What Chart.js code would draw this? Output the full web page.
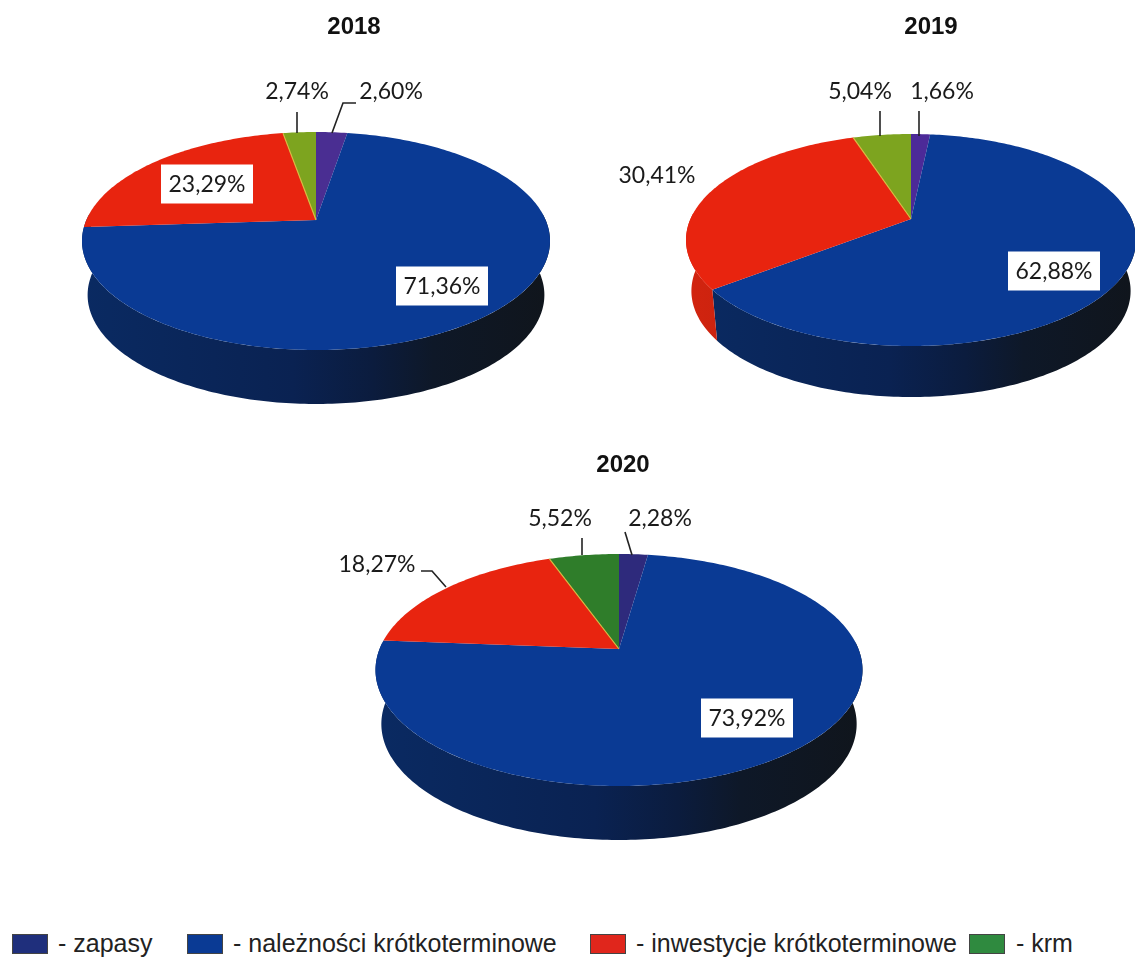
<!DOCTYPE html>
<html lang="pl">
<head>
<meta charset="utf-8">
<title>Struktura majątku obrotowego</title>
<script src="https://cdn.jsdelivr.net/npm/chart.js@4.4.0/dist/chart.umd.min.js"></script>
<style>
    html, body { margin: 0; padding: 0; background: #fff; overflow: hidden; }
    #page { position: relative; width: 1135px; height: 957px; overflow: hidden; }
    canvas { position: absolute; }
    .swatch { position: absolute; top: 934px; width: 34px; height: 18px; border: 1px solid #444; box-sizing: content-box; }
    .legend-text { position: absolute; top: 930px; font: 25px "Liberation Sans", sans-serif; color: #222; white-space: nowrap; line-height: 26px; }
</style>
</head>
<body>
<div id="page">
    <canvas id="pie2018" width="600" height="440" style="left:0;top:0"></canvas>
    <canvas id="pie2019" width="535" height="440" style="left:600px;top:0"></canvas>
    <canvas id="pie2020" width="600" height="450" style="left:300px;top:440px"></canvas>
</div>
<script>
// ____________ Data ____________
const categories = ["zapasy", "należności krótkoterminowe", "inwestycje krótkoterminowe", "krm"];
const years = ["2018", "2019", "2020"];
const values2018 = [2.60, 71.36, 23.29, 2.74];
const values2019 = [1.66, 62.88, 30.41, 5.04];
const values2020 = [2.28, 73.92, 18.27, 5.52];

// ____________ Colours ____________
const colors2018 = ["#4a2e92", "#0a3a94", "#e8240f", "#7da41f"];
const colors2019 = ["#4c2a98", "#0a3a94", "#e8240f", "#7da41f"];
const colors2020 = ["#2e2a7c", "#0a3a94", "#e8240f", "#2f7d2a"];
const legendColors = ["#1f2f7c", "#0a3a94", "#e0261c", "#2f8a3f"];

// ____________ Layout, page coordinates ____________
// apex = tip of the slices, top/bottom/left/right = edge of the top face
const layout2018 = {
    box: {x: 0, y: 0}, apexX: 316, apexY: 220, top: 132, bottom: 350, halfWidth: 234, depth: 54,
    title: {x: 354, y: 27},
    labels: [
        {x: 391, y: 91, line: [[356,103],[343,103],[332,133]]},
        {x: 442, y: 286, boxed: true},
        {x: 207, y: 184, boxed: true},
        {x: 297, y: 91, line: [[297,112],[297,133]]}
    ]
};
const layout2019 = {
    box: {x: 600, y: 0}, apexX: 911, apexY: 219, top: 134, bottom: 346, halfWidth: 225, depth: 51,
    title: {x: 931, y: 27},
    labels: [
        {x: 942, y: 91, line: [[919,111],[919,136]]},
        {x: 1054, y: 271, boxed: true},
        {x: 657, y: 175},
        {x: 860, y: 91, line: [[880,111],[880,136]]}
    ]
};
const layout2020 = {
    box: {x: 300, y: 440}, apexX: 619, apexY: 649, top: 554, bottom: 786, halfWidth: 243.5, depth: 54,
    title: {x: 623, y: 465},
    labels: [
        {x: 660, y: 518, line: [[625,532],[632,555]]},
        {x: 747, y: 718, boxed: true},
        {x: 377, y: 564, line: [[421,571],[432,571],[446,587]]},
        {x: 560, y: 518, line: [[582,538],[582,555]]}
    ]
};
const legendItems = [
    {swatchX: 12, textX: 58},
    {swatchX: 187, textX: 233},
    {swatchX: 590, textX: 636},
    {swatchX: 969, textX: 1016}
];

// ____________ Functions ____________
function percentText(value){
    return value.toFixed(2).replace(".", ",") + "%";
}

// circle point -> tilted face, the front of the disc comes closer to the viewer
function makeProjection(pie){
    let up = pie.apexY - pie.top;
    let down = pie.bottom - pie.apexY;
    let p = (up - down) / (up + down);
    let b = up * (1 - p);
    let a = pie.halfWidth * Math.sqrt(1 - p * p);
    return (angle, depth) => {
        let u = Math.cos(angle), v = Math.sin(angle);
        let w = 1 + p * v;
        let shrink = 1 - 0.024 * depth / pie.depth;
        return [pie.apexX + shrink * a * u / w, pie.apexY + b * v / w + depth];
    };
}

function traceArc(ctx, project, start, end, depth, moveFirst){
    let steps = Math.max(2, Math.ceil(Math.abs(end - start) * 60));
    for(let i = 0; i <= steps; i++){
        let pt = project(start + (end - start) * i / steps, depth);
        if(i == 0 && moveFirst) ctx.moveTo(pt[0], pt[1]);
        else ctx.lineTo(pt[0], pt[1]);
    }
}

function wallFill(ctx, pie, color){
    let left = pie.apexX - pie.halfWidth;
    let grad = ctx.createLinearGradient(left, 0, left + 2 * pie.halfWidth, 0);
    if(color == "#0a3a94"){
        grad.addColorStop(0, "#0a2a62");
        grad.addColorStop(0.45, "#0a2252");
        grad.addColorStop(0.62, "#0b1c3e");
        grad.addColorStop(0.75, "#0e1828");
        grad.addColorStop(1, "#10151c");
    }else{
        grad.addColorStop(0, "#d2240f");
        grad.addColorStop(1, "#8c1a0c");
    }
    return grad;
}

function tiltedPie(pie, values){
    let project = makeProjection(pie);
    let wallEnd = Math.PI * 1.02;
    return {
        id: "tiltedPie",
        beforeDatasetsDraw(chart){
            let ctx = chart.ctx;
            let arcs = chart.getDatasetMeta(0).data;
            let colors = chart.data.datasets[0].backgroundColor;
            ctx.save();
            ctx.translate(-pie.box.x, -pie.box.y);
            // side wall, a sliver of the next slice at the far left is covered by the big one
            arcs.forEach((arc, i) => {
                let start = Math.max(arc.startAngle, 0 - Math.PI * 0.02);
                let end = Math.min(arc.endAngle, wallEnd);
                if(end - start < 0.15) return;
                if(wallEnd - end < 0.15) end = wallEnd;
                ctx.beginPath();
                traceArc(ctx, project, start, end, 0, true);
                traceArc(ctx, project, end, start, pie.depth, false);
                ctx.closePath();
                ctx.fillStyle = wallFill(ctx, pie, colors[i]);
                ctx.fill();
            });
            // top face
            arcs.forEach((arc, i) => {
                ctx.beginPath();
                ctx.moveTo(pie.apexX, pie.apexY);
                traceArc(ctx, project, arc.startAngle, arc.endAngle, 0, false);
                ctx.closePath();
                ctx.fillStyle = colors[i];
                ctx.fill();
            });
            // light seam between the red and the green slice
            let seam = project(arcs[3].startAngle, 0);
            ctx.beginPath();
            ctx.moveTo(pie.apexX, pie.apexY);
            ctx.lineTo(seam[0], seam[1]);
            ctx.strokeStyle = "#d8b840";
            ctx.lineWidth = 1.2;
            ctx.stroke();
            ctx.restore();
            return false; // the slices are done, skip the flat ones
        },
        afterDraw(chart){
            let ctx = chart.ctx;
            ctx.save();
            ctx.translate(-pie.box.x, -pie.box.y);
            ctx.textAlign = "center";
            ctx.textBaseline = "middle";
            ctx.font = 'bold 24px "Liberation Sans", sans-serif';
            ctx.fillStyle = "#111";
            ctx.fillText(chart.data.datasets[0].label, pie.title.x, pie.title.y);

            ctx.font = '23px Lato, sans-serif';
            pie.labels.forEach((label, i) => {
                if(label.line){
                    ctx.beginPath();
                    label.line.forEach((pt, k) => k == 0 ? ctx.moveTo(pt[0], pt[1]) : ctx.lineTo(pt[0], pt[1]));
                    ctx.strokeStyle = "#222";
                    ctx.lineWidth = 1.6;
                    ctx.stroke();
                }
                if(label.boxed){
                    ctx.fillStyle = "#fff";
                    ctx.fillRect(label.x - 46, label.y - 19.5, 92, 39);
                }
                ctx.fillStyle = "#1a1a1a";
                ctx.fillText(percentText(values[i]), label.x, label.y + 1);
            });
            ctx.restore();
        }
    };
}

function drawPie(canvasId, year, values, colors, pie){
    return new Chart(document.getElementById(canvasId), {
        type: "pie",
        data: {
            labels: categories,
            datasets: [{label: year, data: values, backgroundColor: colors, borderWidth: 0}]
        },
        options: {
            responsive: false,
            animation: false,
            events: [],
            plugins: {legend: {display: false}, tooltip: {enabled: false}}
        },
        plugins: [tiltedPie(pie, values)]
    });
}

// ____________ Starting ____________
drawPie("pie2018", years[0], values2018, colors2018, layout2018);
drawPie("pie2019", years[1], values2019, colors2019, layout2019);
drawPie("pie2020", years[2], values2020, colors2020, layout2020);

// legend under the pies
let page = document.getElementById("page");
categories.forEach((name, i) => {
    let swatch = document.createElement("div");
    swatch.className = "swatch";
    swatch.style.left = legendItems[i].swatchX + "px";
    swatch.style.background = legendColors[i];
    page.appendChild(swatch);
    let text = document.createElement("div");
    text.className = "legend-text";
    text.style.left = legendItems[i].textX + "px";
    text.textContent = "- " + name;
    page.appendChild(text);
});
</script>
</body>
</html>
